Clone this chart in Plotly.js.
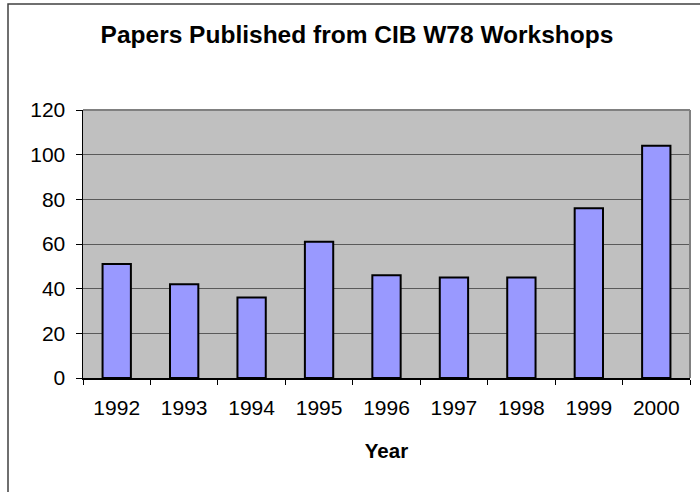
<!DOCTYPE html>
<html>
<head>
<meta charset="utf-8">
<script src="https://cdn.plot.ly/plotly-3.0.1.min.js"></script>
<style>html,body{margin:0;padding:0;background:#fff;}#chart{width:700px;height:492px;}</style>
</head>
<body>
<div id="chart"></div>
<script>
const years = ["1992","1993","1994","1995","1996","1997","1998","1999","2000"];
const papers = [51, 42, 36, 61, 46, 45, 45, 76, 104];
const yTicks = [0, 20, 40, 60, 80, 100, 120];

const FONT = "Liberation Sans, Arial, sans-serif";

const trace = {
  type: "bar",
  x: years,
  y: papers,
  marker: {color: "#9999FF", line: {color: "#000000", width: 2}},
  hoverinfo: "x+y"
};

const layout = {
  width: 700, height: 492,
  margin: {l: 83, r: 10, t: 110, b: 114},
  paper_bgcolor: "#FFFFFF",
  plot_bgcolor: "#C0C0C0",
  bargap: 0.58,
  showlegend: false,
  font: {family: FONT, color: "#000000", size: 21},
  title: {
    text: "<b>Papers Published from CIB W78 Workshops</b>",
    font: {family: FONT, size: 24.5, color: "#000000"},
    x: 357/700, xref: "container", xanchor: "center",
    y: 1 - 34/492, yref: "container", yanchor: "middle"
  },
  xaxis: {
    type: "category",
    showline: true, linecolor: "#000000", linewidth: 1.5,
    ticks: "outside", tickson: "boundaries", ticklen: 5, tickcolor: "#000000",
    ticklabelstandoff: 10,
    tickfont: {family: FONT, size: 21, color: "#000000"},
    showgrid: false, zeroline: false,
    title: {text: "<b>Year</b>", font: {family: FONT, size: 20.5, color: "#000000"}, standoff: 26}
  },
  yaxis: {
    range: [0, 120],
    tickvals: yTicks,
    ticktext: yTicks.map(String),
    showline: true, linecolor: "#000000", linewidth: 1.5,
    ticks: "outside", ticklen: 6, tickcolor: "#000000",
    ticklabelstandoff: 6,
    tickfont: {family: FONT, size: 21, color: "#000000"},
    showgrid: true, gridcolor: "#5A5A5A", gridwidth: 1,
    zeroline: false
  },
  shapes: [
    {type: "line", xref: "paper", yref: "paper", x0: 0, x1: 1, y0: 1, y1: 1, line: {color: "#808080", width: 2}},
    {type: "line", xref: "paper", yref: "paper", x0: 1, x1: 1, y0: 0, y1: 1, line: {color: "#808080", width: 2}},
    {type: "rect", xref: "paper", yref: "paper",
     x0: (8 - 83) / 607, x1: 1.2, y0: -0.6, y1: (378 - 4) / 268,
     line: {color: "#404040", width: 1.5}, fillcolor: "rgba(0,0,0,0)", layer: "below"}
  ]
};

Plotly.newPlot("chart", [trace], layout, {displayModeBar: false, staticPlot: true});
</script>
</body>
</html>
